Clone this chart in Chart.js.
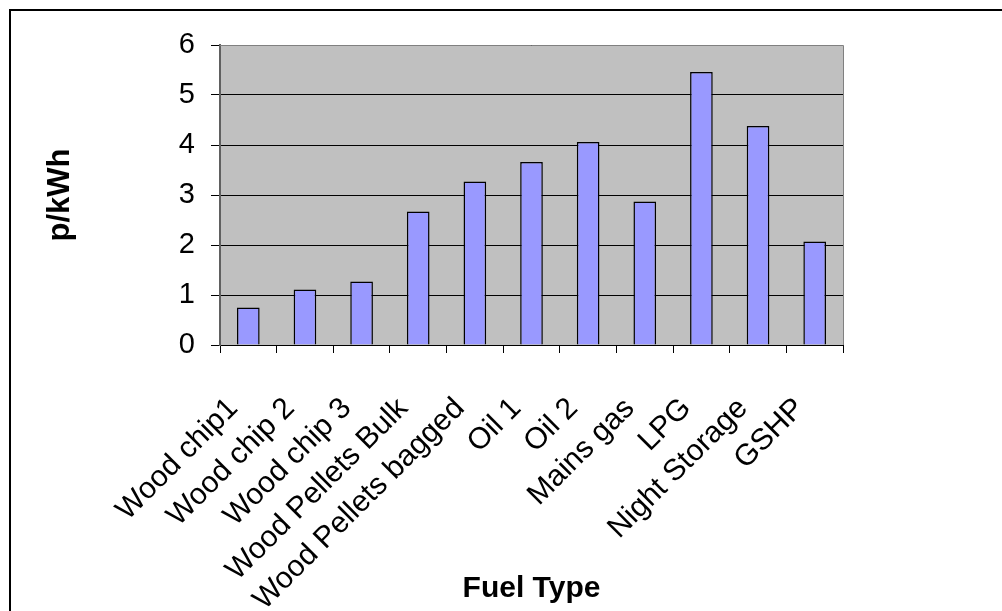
<!DOCTYPE html>
<html>
<head>
<meta charset="utf-8">
<script src="https://cdn.jsdelivr.net/npm/chart.js@4"></script>
<style>
  html, body { margin: 0; padding: 0; background: #fff; overflow: hidden; }
  #marco { position: absolute; left: 9px; top: 9px; width: 1010px; height: 620px; border: 2px solid #000; }
  #caja { position: absolute; left: 0; top: 0; width: 1002px; height: 611px; }
</style>
</head>
<body>
<div id="marco"></div>
<div id="caja"><canvas id="grafico" width="1002" height="611"></canvas></div>
<script>
// Datos del grafico
let combustibles = ['Wood chip1', 'Wood chip 2', 'Wood chip 3', 'Wood Pellets Bulk', 'Wood Pellets bagged',
                    'Oil 1', 'Oil 2', 'Mains gas', 'LPG', 'Night Storage', 'GSHP'];
let precios = [0.75, 1.11, 1.27, 2.67, 3.27, 3.66, 4.06, 2.87, 5.46, 4.38, 2.07];
let tituloX = 'Fuel Type';
let tituloY = 'p/kWh';

// Fondo gris del area de trazado
let fondoGris = {
    id: 'fondoGris',
    beforeDraw(chart) {
        let a = chart.chartArea;
        let ctx = chart.ctx;
        ctx.save();
        ctx.fillStyle = '#C0C0C0';
        ctx.fillRect(a.left, a.top, a.right - a.left, a.bottom - a.top);
        ctx.restore();
    },
    afterDatasetsDraw(chart) {
        let a = chart.chartArea;
        let ctx = chart.ctx;
        ctx.save();
        ctx.strokeStyle = '#808080';
        ctx.lineWidth = 1;
        ctx.beginPath();
        ctx.moveTo(a.left, a.top + 0.5);
        ctx.lineTo(a.right + 0.5, a.top + 0.5);
        ctx.lineTo(a.right + 0.5, a.bottom);
        ctx.stroke();
        ctx.restore();
    }
};

let canvas = document.getElementById('grafico');
let grafica = new Chart(canvas, {
    type: 'bar',
    data: {
        labels: combustibles,
        datasets: [{
            data: precios,
            backgroundColor: '#9999FF',
            borderColor: '#000000',
            borderWidth: 1.5,
            barPercentage: 0.4,
            categoryPercentage: 1.0
        }]
    },
    options: {
        responsive: false,
        animation: false,
        layout: { padding: { left: 0, top: 45, right: 159, bottom: 0 } },
        plugins: {
            legend: { display: false },
            tooltip: { enabled: false }
        },
        scales: {
            x: {
                afterFit(scale) { scale.height = 266; },
                grid: { offset: true, drawOnChartArea: false, drawTicks: true, tickLength: 8, color: '#000', lineWidth: 1 },
                border: { color: '#000', width: 1 },
                ticks: {
                    color: '#000', minRotation: 45, maxRotation: 45, autoSkip: false, padding: 38, labelOffset: -15,
                    font: { family: 'Liberation Sans, Arial', size: 30 }
                },
                title: {
                    display: true, text: tituloX, color: '#000', padding: { top: 0, bottom: 4 },
                    font: { family: 'Liberation Sans, Arial', size: 30, weight: 'bold' }
                }
            },
            y: {
                min: 0, max: 6,
                afterFit(scale) { scale.width = 220; },
                grid: { color: '#000', lineWidth: 1, tickLength: 9, drawTicks: true },
                border: { color: '#606060', width: 2 },
                ticks: {
                    stepSize: 1, color: '#000', padding: 16,
                    font: { family: 'Liberation Sans, Arial', size: 29 }
                },
                title: {
                    display: true, text: tituloY, color: '#000', padding: { top: 42, bottom: 0 },
                    font: { family: 'Liberation Sans, Arial', size: 31, weight: 'bold' }
                }
            }
        }
    },
    plugins: [fondoGris]
});
</script>
</body>
</html>
